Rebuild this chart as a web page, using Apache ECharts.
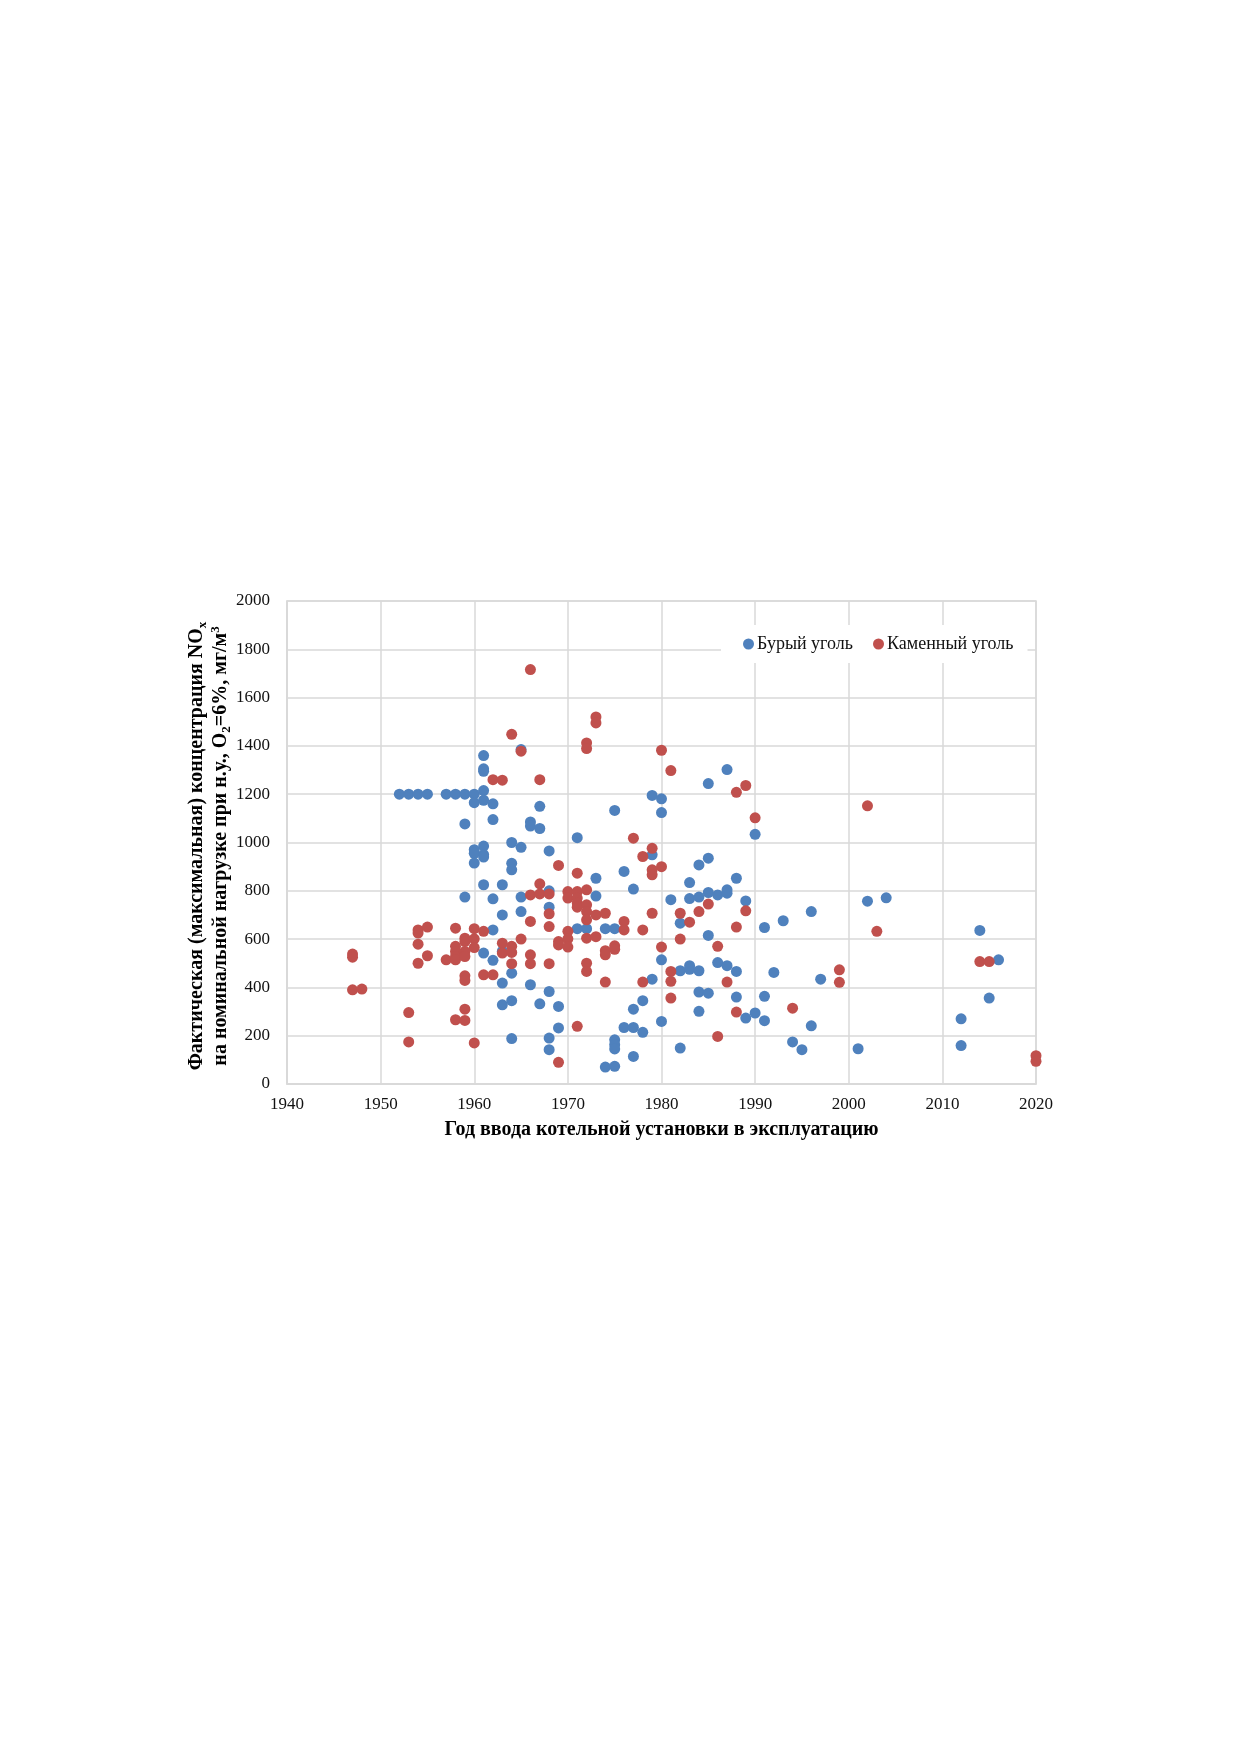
<!DOCTYPE html>
<html>
<head>
<meta charset="utf-8">
<script src="https://cdn.jsdelivr.net/npm/echarts@6/dist/echarts.min.js"></script>
<style>
html,body{margin:0;padding:0;background:#fff;}
#chart{width:1240px;height:1754px;}
</style>
</head>
<body>
<div id="chart"></div>
<script>
// Data: [year of commissioning, NOx concentration mg/m3]
var seriesNames = ['Бурый уголь', 'Каменный уголь'];
var xTicks = [1940, 1950, 1960, 1970, 1980, 1990, 2000, 2010, 2020];
var yTicks = [0, 200, 400, 600, 800, 1000, 1200, 1400, 1600, 1800, 2000];

var brownCoal = [
  [1952,1200],[1953,1200],[1954,1200],[1955,1200],[1957,1200],[1958,1200],[1959,1200],[1960,1200],
  [1960,1165],[1961,1215],[1961,1175],[1962,1160],[1962,1095],[1959,1077],[1961,1360],[1961,1305],
  [1961,1295],[1967,1150],[1966,1085],[1966,1068],[1967,1058],[1971,1020],[1965,1385],[1960,970],
  [1960,955],[1960,915],[1961,985],[1961,950],[1961,940],[1964,1000],[1965,980],[1968,965],
  [1964,914],[1964,887],[1959,774],[1961,825],[1962,767],[1963,825],[1965,774],[1965,714],
  [1963,700],[1962,638],[1968,800],[1968,732],[1973,852],[1973,778],[1971,643],[1972,643],
  [1961,542],[1962,512],[1964,459],[1963,418],[1966,411],[1968,383],[1963,328],[1964,345],
  [1967,332],[1969,321],[1969,232],[1964,188],[1968,190],[1968,142],[1974,70],[1963,550],
  [1987,1302],[1985,1244],[1979,1195],[1980,1181],[1975,1133],[1980,1124],[1990,1034],
  [1979,949],[1984,907],[1985,935],[1976,880],[1988,852],[1977,807],[1983,834],[1981,763],
  [1983,768],[1984,774],[1985,793],[1986,783],[1987,804],[1987,790],[1989,758],[1996,714],
  [1993,676],[1991,648],[1974,643],[1975,643],[1982,666],[1985,615],[1980,514],[1986,503],
  [1987,490],[1988,466],[1982,469],[1983,490],[1983,475],[1984,469],[1992,462],[1979,434],
  [1997,434],[1984,381],[1985,376],[1988,360],[1991,363],[1978,345],[1977,310],[1990,294],
  [1989,273],[1991,262],[1984,301],[1980,259],[1976,234],[1977,234],[1978,214],[1996,241],
  [1975,183],[1975,163],[1975,145],[1982,149],[1977,114],[1994,174],[1995,142],[1975,73],
  [2002,757],[2004,771],[2014,636],[2016,514],[2015,356],[2012,270],[2012,159],[2001,146]
];

var hardCoal = [
  [1947,538],[1947,525],[1947,390],[1948,393],[1953,296],[1953,174],[1954,638],[1954,625],
  [1954,579],[1954,500],[1955,650],[1955,531],[1957,514],[1958,645],[1958,570],[1958,549],
  [1958,528],[1958,514],[1958,266],[1959,604],[1959,590],[1959,549],[1959,528],[1959,448],
  [1959,429],[1959,310],[1959,263],[1960,643],[1960,601],[1960,565],[1960,170],[1961,632],
  [1961,452],[1962,452],[1963,583],[1963,542],[1964,570],[1964,545],[1964,498],[1965,600],
  [1966,783],[1966,673],[1966,535],[1966,498],[1967,829],[1967,787],[1968,787],[1968,705],
  [1968,652],[1968,498],[1969,905],[1969,590],[1969,576],[1969,90],[1970,797],[1970,770],
  [1970,632],[1970,601],[1970,567],[1971,873],[1971,797],[1971,770],[1971,749],[1971,732],
  [1971,239],[1972,804],[1972,742],[1972,714],[1972,680],[1972,604],[1972,500],[1972,466],
  [1973,700],[1973,610],[1966,1716],[1964,1448],[1965,1378],[1962,1260],[1963,1258],[1967,1260],
  [1972,1412],[1972,1389],[1973,1520],[1973,1495],[1980,1382],[1981,1298],[1989,1236],[1988,1208],
  [1990,1102],[1977,1018],[1979,976],[1979,887],[1979,866],[1980,900],[1978,942],[1974,707],
  [1976,673],[1978,638],[1979,707],[1982,707],[1983,670],[1984,714],[1985,745],[1989,717],
  [1988,650],[1974,552],[1974,535],[1975,572],[1975,558],[1976,638],[1982,600],[1980,567],
  [1986,570],[1974,422],[1978,422],[1981,466],[1981,425],[1981,356],[1987,422],[1988,298],
  [1986,197],[1994,314],[2002,1152],[2003,632],[2014,507],[2015,507],[1999,473],[1999,421],
  [2020,117],[2020,94]
];

var chart = echarts.init(document.getElementById('chart'), null, {renderer: 'canvas'});
var serif = '"Liberation Serif", "Times New Roman", serif';
var gridColor = '#d9d9d9';
function plain(v) { return String(v); }

chart.setOption({
  backgroundColor: '#ffffff',
  animation: false,
  textStyle: {fontFamily: serif},
  grid: {left: 287, right: 204, top: 601, bottom: 670, containLabel: false,
         show: true, borderColor: gridColor, borderWidth: 1.5},
  legend: {
    data: seriesNames,
    left: 721, top: 625,
    icon: 'circle', itemWidth: 11, itemHeight: 11, itemGap: 20,
    padding: [10, 14, 10, 22],
    backgroundColor: '#ffffff',
    textStyle: {fontFamily: serif, fontSize: 18, color: '#111', padding: [0, 0, 0, -2]}
  },
  xAxis: {
    type: 'value', min: xTicks[0], max: xTicks[xTicks.length - 1], interval: 10,
    axisLine: {show: true, lineStyle: {color: gridColor, width: 1.5}},
    axisTick: {show: false},
    splitLine: {show: true, lineStyle: {color: gridColor, width: 1.5}},
    axisLabel: {fontFamily: serif, fontSize: 17, color: '#111', margin: 12, formatter: plain},
    name: 'Год ввода котельной установки в эксплуатацию',
    nameLocation: 'middle', nameGap: 36,
    nameTextStyle: {fontFamily: serif, fontSize: 20, fontWeight: 'bold', color: '#000'}
  },
  yAxis: {
    type: 'value', min: yTicks[0], max: yTicks[yTicks.length - 1], interval: 200,
    axisLine: {show: true, lineStyle: {color: gridColor, width: 1.5}},
    axisTick: {show: false},
    splitLine: {show: true, lineStyle: {color: gridColor, width: 1.5}},
    axisLabel: {fontFamily: serif, fontSize: 17, color: '#111', margin: 17, formatter: plain}
  },
  graphic: [{
    type: 'text',
    x: 209, y: 846,
    rotation: Math.PI / 2,
    style: {
      text: 'Фактическая (максимальная) концентрация NO{sub|x}\nна номинальной нагрузке при н.у., O{sub|2}=6%, мг/м{sup|3}',
      align: 'center', verticalAlign: 'middle',
      fontFamily: serif, fontSize: 20, fontWeight: 'bold', fill: '#000',
      lineHeight: 24,
      rich: {
        sub: {fontFamily: serif, fontSize: 13, fontWeight: 'bold', verticalAlign: 'bottom', lineHeight: 24, fill: '#000'},
        sup: {fontFamily: serif, fontSize: 13, fontWeight: 'bold', verticalAlign: 'top', lineHeight: 24, fill: '#000'}
      }
    }
  }],
  series: [
    {name: seriesNames[0], type: 'scatter', data: brownCoal, symbol: 'circle', symbolSize: 11,
     itemStyle: {color: '#4F81BD', opacity: 1}},
    {name: seriesNames[1], type: 'scatter', data: hardCoal, symbol: 'circle', symbolSize: 11,
     itemStyle: {color: '#C0504D', opacity: 1}}
  ]
});
</script>
</body>
</html>
